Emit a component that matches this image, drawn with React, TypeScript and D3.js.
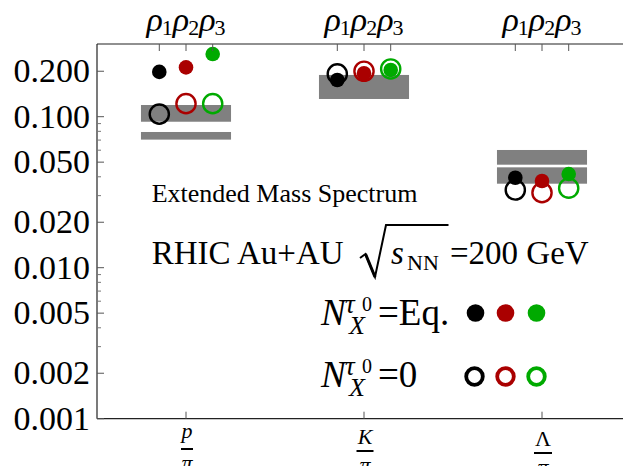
import React from "react";
import * as d3 from "d3";

const categories = ["p", "K", "Λ"];
const categoryItalic = [true, true, false];
const denominators = ["π", "π", "π"];
const rhoLabels = ["1", "2", "3"];
const seriesColors = ["#000000", "#aa0000", "#00aa00"];

// N_X^{tau0} = Eq. (filled), per rho (rows) per category (columns)
const eqRho1 = [0.198, 0.175, 0.0394];
const eqRho2 = [0.212, 0.194, 0.0375];
const eqRho3 = [0.26, 0.204, 0.0417];
// N_X^{tau0} = 0 (open)
const zeroRho1 = [0.104, 0.192, 0.0327];
const zeroRho2 = [0.122, 0.2, 0.0314];
const zeroRho3 = [0.122, 0.207, 0.0336];

// experimental bands: [category index, low, high]
const bandCat = [0, 0, 1, 2, 2];
const bandLow = [0.0926, 0.0705, 0.131, 0.0481, 0.036];
const bandHigh = [0.1195, 0.0792, 0.189, 0.0602, 0.0462];

const majorTicks = [0.001, 0.002, 0.005, 0.01, 0.02, 0.05, 0.1, 0.2];
const minorTicks = [0.003, 0.004, 0.006, 0.007, 0.008, 0.009, 0.03, 0.04, 0.06, 0.07, 0.08, 0.09];

const W = 623;
const H = 466;
const left = 97;
const top = 44;
const bottom = 418.7;
const serif = "'Liberation Serif', 'DejaVu Serif', serif";

export default function App() {
  const x = d3.scaleLinear().domain([-0.5, 2.5]).range([left, 631]);
  const y = d3.scaleLog().domain([0.001, 0.303]).range([bottom, top]);
  const rhoOffset = 0.15;
  const bandHalf = 0.253;
  const fmt = d3.format(".3f");
  const eq = [eqRho1, eqRho2, eqRho3];
  const zero = [zeroRho1, zeroRho2, zeroRho3];

  const legendX0 = 474.5;
  const legendDx = 31;
  const numBase = [438, 444, 446];
  const barY = [449, 451, 453];
  const barW = [12, 17, 18];

  return (
    <svg
      width={W}
      height={H}
      style={{ position: "absolute", left: 0, top: 0, background: "#fff" }}
      fontFamily={serif}
    >
      {/* bands */}
      {bandCat.map((c, i) => (
        <rect
          key={"b" + i}
          x={x(c - bandHalf)}
          width={x(c + bandHalf) - x(c - bandHalf)}
          y={y(bandHigh[i])}
          height={y(bandLow[i]) - y(bandHigh[i])}
          fill="#808080"
        />
      ))}
      {/* open markers */}
      {zero.map((vals, r) =>
        vals.map((v, c) => (
          <circle
            key={"o" + r + c}
            cx={x(c + (r - 1) * rhoOffset)}
            cy={y(v)}
            r={9.6}
            fill="none"
            stroke={seriesColors[r]}
            strokeWidth={2.4}
          />
        ))
      )}
      {/* filled markers */}
      {eq.map((vals, r) =>
        vals.map((v, c) => (
          <circle
            key={"f" + r + c}
            cx={x(c + (r - 1) * rhoOffset)}
            cy={y(v)}
            r={7.3}
            fill={seriesColors[r]}
          />
        ))
      )}

      {/* axes frame */}
      <line x1={left} x2={W} y1={top} y2={top} stroke="#222" strokeWidth={1.2} />
      <line x1={left} x2={W} y1={bottom} y2={bottom} stroke="#222" strokeWidth={1.2} />
      <line x1={left} x2={left} y1={top} y2={bottom} stroke="#222" strokeWidth={1.2} />

      {/* left ticks */}
      {majorTicks.map((t) => (
        <g key={"mt" + t}>
          <line x1={left} x2={left + 7} y1={y(t)} y2={y(t)} stroke="#555" strokeWidth={1} />
          <text x={90} y={y(t) + 11} textAnchor="end" fontSize={34} fill="#000">
            {fmt(t)}
          </text>
        </g>
      ))}
      {minorTicks.map((t) => (
        <line key={"mn" + t} x1={left} x2={left + 4} y1={y(t)} y2={y(t)} stroke="#777" strokeWidth={1} />
      ))}

      {/* top ticks and labels */}
      {categories.map((_, c) => (
        <g key={"top" + c}>
          {rhoLabels.map((_, r) => (
            <line
              key={"tt" + r}
              x1={x(c + (r - 1) * rhoOffset)}
              x2={x(c + (r - 1) * rhoOffset)}
              y1={top}
              y2={top + 7}
              stroke="#555"
              strokeWidth={1}
            />
          ))}
          <text x={x(c)} y={31} textAnchor="middle" fill="#000">
            {rhoLabels.map((lab, r) => (
              <React.Fragment key={"rl" + r}>
                <tspan fontSize={34} fontStyle="italic" dy={r === 0 ? 0 : -4}>ρ</tspan>
                <tspan fontSize={22} dy={4} dx={-1}>{lab}</tspan>
              </React.Fragment>
            ))}
          </text>
        </g>
      ))}

      {/* bottom ticks and fraction labels */}
      {categories.map((cat, c) => {
        const cx = x(c);
        return (
          <g key={"bot" + c}>
            <line x1={cx} x2={cx} y1={bottom} y2={bottom - 7} stroke="#555" strokeWidth={1} />
            <text
              x={cx + 1}
              y={numBase[c]}
              textAnchor="middle"
              fontSize={22}
              fontStyle={categoryItalic[c] ? "italic" : "normal"}
            >
              {cat}
            </text>
            <line x1={cx - barW[c] / 2 + 1} x2={cx + barW[c] / 2 + 1} y1={barY[c]} y2={barY[c]} stroke="#000" strokeWidth={2} />
            <text x={cx + 1} y={barY[c] + 21} textAnchor="middle" fontSize={22} fontStyle="italic">
              {denominators[c]}
            </text>
          </g>
        );
      })}

      {/* annotations */}
      <text x={151.7} y={201.7} fontSize={26}>Extended Mass Spectrum</text>
      <text x={151.7} y={264} fontSize={33}>RHIC Au+AU</text>
      <path
        d="M360,258 L365.5,254 L375,277 L386,225 L448.5,225"
        fill="none"
        stroke="#000"
        strokeWidth={2}
        strokeLinejoin="miter"
      />
      <path d="M365.5,254 L375,277" stroke="#000" strokeWidth={3} />
      <text x={391} y={264} fontSize={33} fontStyle="italic">s</text>
      <text x={407} y={270} fontSize={22}>NN</text>
      <text x={450} y={264} fontSize={33}>=200 GeV</text>

      {/* legend */}
      {[
        { base: 325, tail: "=Eq.", filled: true },
        { base: 387, tail: "=0", filled: false },
      ].map((row, i) => (
        <g key={"leg" + i}>
          <text x={321} y={row.base} fontSize={37} fontStyle="italic">N</text>
          <text x={345} y={row.base - 12} fontSize={27} fontStyle="italic">τ</text>
          <text x={362} y={row.base - 14} fontSize={20}>0</text>
          <text x={349} y={row.base + 9} fontSize={26} fontStyle="italic">X</text>
          <text x={378} y={row.base} fontSize={37}>{row.tail}</text>
          {seriesColors.map((col, r) =>
            row.filled ? (
              <circle key={"lc" + r} cx={legendX0 + r * legendDx + (r === 0 ? 1 : 0)} cy={row.base - 12} r={8.8} fill={col} />
            ) : (
              <circle
                key={"lc" + r}
                cx={legendX0 + r * legendDx}
                cy={row.base - 10.5}
                r={8.3}
                fill="none"
                stroke={col}
                strokeWidth={3.8}
              />
            )
          )}
        </g>
      ))}
    </svg>
  );
}
